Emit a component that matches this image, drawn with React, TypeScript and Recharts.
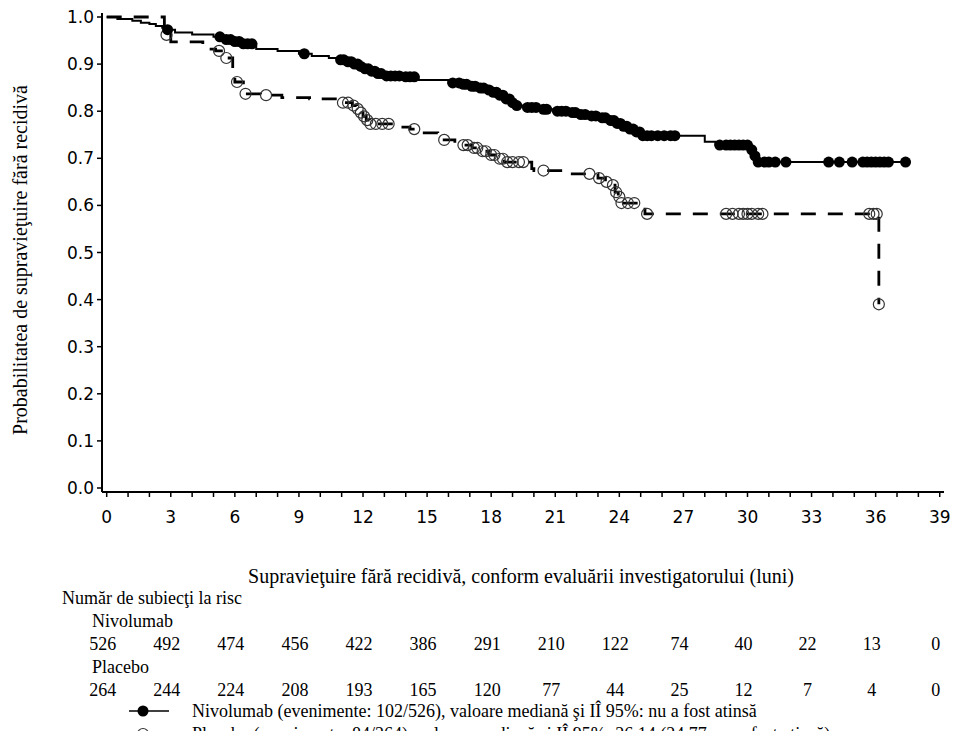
import React from 'react';
import { LineChart, Line, XAxis, YAxis } from 'recharts';

// Kaplan-Meier points: [month, survival, censored (1) / event (0)]
const nivolumab: [number, number, number][] = [
  [0, 1.0, 0], [0.5, 0.996, 0], [1.2, 0.992, 0], [1.6, 0.988, 0], [2.0, 0.985, 0],
  [2.3, 0.981, 0], [2.6, 0.977, 0], [2.75, 0.973, 0], [2.85, 0.973, 1],
  [3.2, 0.967, 0], [4.0, 0.963, 0], [5.0, 0.958, 0], [5.3, 0.958, 1],
  [5.5, 0.952, 0], [5.6, 0.952, 1], [5.8, 0.952, 1], [5.9, 0.948, 0], [6.0, 0.948, 1],
  [6.2, 0.948, 1], [6.3, 0.943, 0], [6.4, 0.943, 1], [6.6, 0.943, 1], [6.8, 0.943, 1],
  [7.0, 0.932, 0], [8.0, 0.928, 0], [9.0, 0.922, 0], [9.25, 0.922, 1], [9.6, 0.917, 0],
  [10.4, 0.913, 0], [10.8, 0.909, 0], [10.95, 0.909, 1], [11.1, 0.909, 1],
  [11.2, 0.905, 0], [11.3, 0.905, 1], [11.45, 0.905, 1], [11.5, 0.9, 0], [11.6, 0.9, 1],
  [11.75, 0.9, 1], [11.8, 0.895, 0], [11.9, 0.895, 1], [12.0, 0.89, 0], [12.1, 0.89, 1],
  [12.25, 0.89, 1], [12.3, 0.885, 0], [12.4, 0.885, 1], [12.55, 0.885, 1],
  [12.6, 0.88, 0], [12.7, 0.88, 1], [12.85, 0.88, 1], [13.0, 0.875, 0], [13.1, 0.875, 1],
  [13.3, 0.875, 1], [13.5, 0.875, 1], [13.7, 0.875, 1], [13.9, 0.873, 0], [14.0, 0.873, 1],
  [14.2, 0.873, 1], [14.4, 0.873, 1], [14.6, 0.866, 0], [16.0, 0.86, 0], [16.2, 0.86, 1],
  [16.5, 0.86, 1], [16.6, 0.857, 0], [16.7, 0.857, 1], [16.85, 0.857, 1], [17.0, 0.853, 0],
  [17.1, 0.853, 1], [17.25, 0.853, 1], [17.4, 0.849, 0], [17.5, 0.849, 1], [17.65, 0.849, 1],
  [17.8, 0.845, 0], [17.9, 0.845, 1], [18.0, 0.84, 0], [18.1, 0.84, 1], [18.25, 0.84, 1],
  [18.3, 0.834, 0], [18.4, 0.834, 1], [18.55, 0.834, 1], [18.6, 0.826, 0], [18.7, 0.826, 1],
  [18.85, 0.826, 1], [18.9, 0.818, 0], [19.0, 0.818, 1], [19.1, 0.812, 0], [19.2, 0.812, 1],
  [19.5, 0.808, 0], [19.7, 0.808, 1], [19.9, 0.808, 1], [20.1, 0.808, 1], [20.3, 0.804, 0],
  [20.45, 0.804, 1], [20.6, 0.804, 1], [21.0, 0.8, 0], [21.1, 0.8, 1], [21.3, 0.8, 1],
  [21.5, 0.8, 1], [21.7, 0.797, 0], [21.8, 0.797, 1], [21.95, 0.797, 1], [22.1, 0.793, 0],
  [22.2, 0.793, 1], [22.4, 0.793, 1], [22.6, 0.79, 0], [22.7, 0.79, 1], [22.9, 0.79, 1],
  [23.1, 0.786, 0], [23.2, 0.786, 1], [23.35, 0.786, 1], [23.5, 0.78, 0], [23.6, 0.78, 1],
  [23.75, 0.78, 1], [23.8, 0.774, 0], [23.9, 0.774, 1], [24.05, 0.774, 1], [24.1, 0.768, 0],
  [24.2, 0.768, 1], [24.35, 0.768, 1], [24.4, 0.762, 0], [24.5, 0.762, 1], [24.65, 0.762, 1],
  [24.7, 0.756, 0], [24.8, 0.756, 1], [24.95, 0.756, 1], [25.0, 0.748, 0], [25.1, 0.748, 1],
  [25.3, 0.748, 1], [25.5, 0.748, 1], [25.8, 0.748, 1], [26.1, 0.748, 1], [26.4, 0.748, 1],
  [26.6, 0.748, 1], [28.0, 0.735, 0], [28.5, 0.728, 0], [28.7, 0.728, 1], [29.0, 0.728, 1],
  [29.2, 0.728, 1], [29.4, 0.728, 1], [29.6, 0.728, 1], [29.8, 0.728, 1], [30.0, 0.728, 1],
  [30.1, 0.718, 0], [30.2, 0.718, 1], [30.3, 0.705, 0], [30.35, 0.705, 1], [30.4, 0.692, 0],
  [30.5, 0.692, 1], [30.8, 0.692, 1], [31.0, 0.692, 1], [31.3, 0.692, 1], [31.8, 0.692, 1],
  [33.8, 0.692, 1], [34.3, 0.692, 1], [34.9, 0.692, 1], [35.4, 0.692, 1], [35.6, 0.692, 1],
  [35.8, 0.692, 1], [36.0, 0.692, 1], [36.2, 0.692, 1], [36.4, 0.692, 1], [36.6, 0.692, 1],
  [37.4, 0.692, 1],
];

const placebo: [number, number, number][] = [
  [0, 1.0, 0], [2.7, 0.962, 0], [2.8, 0.962, 1], [3.0, 0.947, 0], [4.5, 0.932, 0],
  [5.1, 0.928, 0], [5.26, 0.928, 1], [5.5, 0.913, 0], [5.6, 0.913, 1], [5.9, 0.875, 0],
  [6.0, 0.862, 0], [6.1, 0.862, 1], [6.4, 0.837, 0], [6.5, 0.837, 1], [7.2, 0.834, 0],
  [7.46, 0.834, 1], [8.2, 0.829, 0], [9.5, 0.826, 0], [11.0, 0.818, 0], [11.06, 0.818, 1],
  [11.3, 0.818, 1], [11.5, 0.812, 0], [11.55, 0.812, 1], [11.7, 0.805, 0], [11.75, 0.805, 1],
  [11.85, 0.797, 0], [11.9, 0.797, 1], [12.0, 0.789, 0], [12.05, 0.789, 1], [12.15, 0.781, 0],
  [12.2, 0.781, 1], [12.3, 0.773, 0], [12.35, 0.773, 1], [12.6, 0.773, 1], [12.9, 0.773, 1],
  [13.2, 0.773, 1], [13.5, 0.766, 0], [14.2, 0.762, 0], [14.4, 0.762, 1], [14.8, 0.754, 0],
  [15.5, 0.739, 0], [15.8, 0.739, 1], [16.3, 0.728, 0], [16.7, 0.728, 1], [16.9, 0.728, 1],
  [17.1, 0.722, 0], [17.2, 0.722, 1], [17.35, 0.722, 1], [17.5, 0.715, 0], [17.6, 0.715, 1],
  [17.75, 0.715, 1], [17.9, 0.707, 0], [18.0, 0.707, 1], [18.15, 0.707, 1], [18.3, 0.699, 0],
  [18.4, 0.699, 1], [18.55, 0.699, 1], [18.6, 0.692, 0], [18.75, 0.692, 1], [19.0, 0.692, 1],
  [19.3, 0.692, 1], [19.5, 0.692, 1], [19.9, 0.678, 0], [20.0, 0.674, 0], [20.45, 0.674, 1],
  [21.6, 0.667, 0], [22.6, 0.667, 1], [23.0, 0.658, 0], [23.05, 0.658, 1], [23.35, 0.65, 0],
  [23.4, 0.65, 1], [23.65, 0.643, 0], [23.7, 0.643, 1], [23.8, 0.628, 0], [23.85, 0.628, 1],
  [23.95, 0.618, 0], [24.0, 0.618, 1], [24.05, 0.605, 0], [24.1, 0.605, 1], [24.4, 0.605, 1],
  [24.7, 0.605, 1], [25.2, 0.582, 0], [25.3, 0.582, 1], [29.0, 0.582, 1], [29.3, 0.582, 1],
  [29.6, 0.582, 1], [29.8, 0.582, 1], [30.0, 0.582, 1], [30.2, 0.582, 1], [30.5, 0.582, 1],
  [30.7, 0.582, 1], [35.7, 0.582, 1], [35.9, 0.582, 1], [36.05, 0.582, 1], [36.15, 0.39, 1],
];

const xTicks = [0, 1, 2, 3, 4, 5, 6, 7, 8, 9, 10, 11, 12, 13, 14, 15, 16, 17, 18, 19,
  20, 21, 22, 23, 24, 25, 26, 27, 28, 29, 30, 31, 32, 33, 34, 35, 36, 37, 38, 39];
const yTicks = [0, 0.1, 0.2, 0.3, 0.4, 0.5, 0.6, 0.7, 0.8, 0.9, 1.0];

const riskMonths = [0, 3, 6, 9, 12, 15, 18, 21, 24, 27, 30, 33, 36, 39];
const riskNivolumab = [526, 492, 474, 456, 422, 386, 291, 210, 122, 74, 40, 22, 13, 0];
const riskPlacebo = [264, 244, 224, 208, 193, 165, 120, 77, 44, 25, 12, 7, 4, 0];

const nivoData = nivolumab.map(([t, s, c]) => ({ t, s, c }));
const placeboData = placebo.map(([t, s, c]) => ({ t, s, c }));

const X_DOMAIN: [number, number] = [-0.22, 39.2];
const Y_DOMAIN: [number, number] = [-0.0085, 1.0085];
const PLOT_LEFT = 102;
const PLOT_RIGHT = 944;
const monthToPx = (m: number) =>
  PLOT_LEFT + ((m - X_DOMAIN[0]) / (X_DOMAIN[1] - X_DOMAIN[0])) * (PLOT_RIGHT - PLOT_LEFT);

const serif = '"Liberation Serif", "Times New Roman", serif';
const sans = '"DejaVu Sans", sans-serif';

function XTick(props: any) {
  const { x, y, payload } = props;
  const major = payload.value % 3 === 0;
  return (
    <g>
      <line x1={x} x2={x} y1={y} y2={y + 5} stroke="#000" strokeWidth={1.5} />
      {major && (
        <text x={x} y={y + 31} textAnchor="middle" fontFamily={sans} fontSize={17} fill="#000">
          {payload.value}
        </text>
      )}
    </g>
  );
}

const nivoDot = (p: any) =>
  p.payload.c ? (
    <circle key={`n${p.index}`} cx={p.cx} cy={p.cy} r={5.5} fill="#000" />
  ) : (
    <g key={`n${p.index}`} />
  );

const placeboDot = (p: any) =>
  p.payload.c ? (
    <circle key={`p${p.index}`} cx={p.cx} cy={p.cy} r={5.5} fill="none" stroke="#333" strokeWidth={1.2} />
  ) : (
    <g key={`p${p.index}`} />
  );

const abs = (left: number, top: number, extra: React.CSSProperties = {}): React.CSSProperties => ({
  position: 'absolute', left, top, whiteSpace: 'nowrap', lineHeight: '20px', ...extra,
});

export default function App() {
  return (
    <div style={{ position: 'absolute', left: 0, top: 0, width: 975, height: 731, background: '#fff',
      fontFamily: serif, fontSize: 18, color: '#000', overflow: 'hidden' }}>
      <LineChart width={975} height={530} margin={{ top: 13, right: 31, left: 0, bottom: 8 }}>
        <XAxis xAxisId="b" dataKey="t" type="number" domain={X_DOMAIN} allowDataOverflow
          ticks={xTicks} interval={0} height={30} tickSize={0} tickMargin={0} tickLine={false}
          axisLine={{ stroke: '#000', strokeWidth: 2 }} tick={<XTick />} />
        <XAxis xAxisId="t" orientation="top" type="number" domain={X_DOMAIN} height={0}
          tick={false} tickLine={false} axisLine={{ stroke: '#333', strokeWidth: 2 }} />
        <YAxis yAxisId="l" type="number" domain={Y_DOMAIN} allowDataOverflow ticks={yTicks}
          interval={0} width={102} tickSize={5} tickMargin={3}
          tickFormatter={(v: number) => v.toFixed(1)}
          tickLine={{ stroke: '#000', strokeWidth: 1.5 }}
          axisLine={{ stroke: '#000', strokeWidth: 2 }}
          tick={{ fill: '#000', fontSize: 17, fontFamily: sans }} />
        <YAxis yAxisId="r" orientation="right" type="number" domain={Y_DOMAIN} width={0}
          tick={false} tickLine={false} axisLine={{ stroke: '#000', strokeWidth: 2 }} />
        <Line xAxisId="b" yAxisId="l" data={placeboData} dataKey="s" type="stepAfter"
          stroke="#000" strokeWidth={2.8} strokeDasharray="15 12" dot={placeboDot}
          activeDot={false} isAnimationActive={false} />
        <Line xAxisId="b" yAxisId="l" data={nivoData} dataKey="s" type="stepAfter"
          stroke="#000" strokeWidth={2} dot={nivoDot} activeDot={false} isAnimationActive={false} />
      </LineChart>

      <div style={abs(20, 260, { fontSize: 20, transform: 'translate(-50%, -50%) rotate(-90deg)' })}>
        Probabilitatea de supravieţuire fără recidivă
      </div>

      <div style={abs(521, 566, { fontSize: 20, transform: 'translateX(-50%)' })}>
        Supravieţuire fără recidivă, conform evaluării investigatorului (luni)
      </div>
      <div style={abs(62, 588)}>Număr de subiecţi la risc</div>
      <div style={abs(92, 611)}>Nivolumab</div>
      {riskNivolumab.map((n, i) => (
        <div key={`rn${i}`} style={abs(monthToPx(riskMonths[i]) - 4, 634, { transform: 'translateX(-50%)' })}>{n}</div>
      ))}
      <div style={abs(92, 657)}>Placebo</div>
      {riskPlacebo.map((n, i) => (
        <div key={`rp${i}`} style={abs(monthToPx(riskMonths[i]) - 4, 680, { transform: 'translateX(-50%)' })}>{n}</div>
      ))}

      <svg style={{ position: 'absolute', left: 125, top: 700 }} width={50} height={40}>
        <line x1={4} x2={44} y1={11} y2={11} stroke="#000" strokeWidth={1.5} />
        <circle cx={18} cy={11} r={5.5} fill="#000" />
        <line x1={4} x2={44} y1={34} y2={34} stroke="#000" strokeWidth={2.5} strokeDasharray="10 6" />
        <circle cx={18} cy={34} r={5.5} fill="#fff" stroke="#333" strokeWidth={1.2} />
      </svg>
      <div style={abs(192, 701)}>
        Nivolumab (evenimente: 102/526), valoare mediană şi IÎ 95%: nu a fost atinsă
      </div>
      <div style={abs(192, 724)}>
        Placebo (evenimente: 84/264), valoare mediană şi IÎ 95%: 26,14 (24,77, nu a fost atinsă)
      </div>
    </div>
  );
}
